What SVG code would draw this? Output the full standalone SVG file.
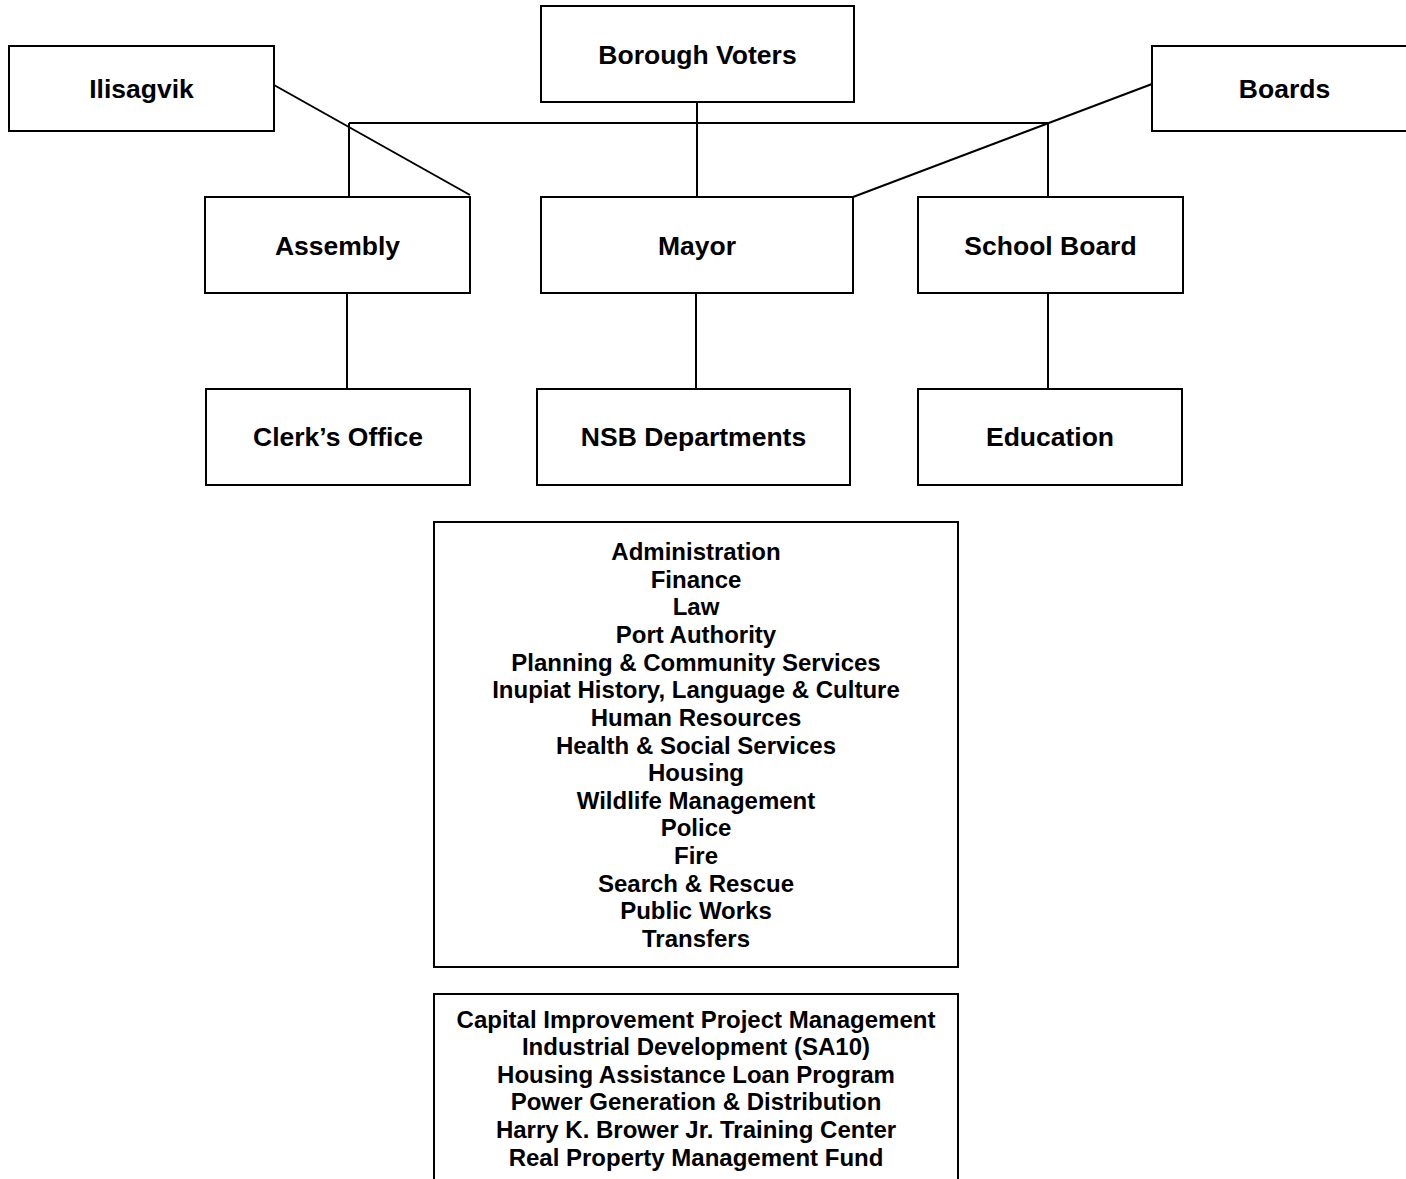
<svg xmlns="http://www.w3.org/2000/svg" width="1406" height="1179" viewBox="0 0 1406 1179">
<style>
.box{fill:#fff;stroke:#000;stroke-width:2}
.lbl{font-family:"Liberation Sans",Arial,sans-serif;font-weight:bold;font-size:26.5px;text-anchor:middle;fill:#000}
.lst{font-family:"Liberation Sans",Arial,sans-serif;font-weight:bold;font-size:24px;text-anchor:middle;fill:#000}
.conn line{stroke:#000;stroke-width:2;fill:none}
</style>
<rect width="1406" height="1179" fill="#fff"/>
<g id="connectors" class="conn">
<line x1="349" y1="123" x2="1048" y2="123"/>
<line x1="349" y1="123" x2="349" y2="197"/>
<line x1="697" y1="102" x2="697" y2="197"/>
<line x1="1048" y1="123" x2="1048" y2="197"/>
<line x1="274" y1="85" x2="470" y2="195"/>
<line x1="1152" y1="84" x2="853" y2="197"/>
<line x1="347" y1="293" x2="347" y2="389"/>
<line x1="696" y1="293" x2="696" y2="389"/>
<line x1="1048" y1="293" x2="1048" y2="389"/>
</g>
<g id="ilisagvik"><rect class="box" x="9" y="46" width="265" height="85"/><text class="lbl" x="141.5" y="98">Ilisagvik</text></g>
<g id="borough-voters"><rect class="box" x="541" y="6" width="313" height="96"/><text class="lbl" x="697.5" y="64">Borough Voters</text></g>
<g id="boards"><rect class="box" x="1152" y="46" width="265" height="85"/><text class="lbl" x="1284.5" y="98">Boards</text></g>
<g id="assembly"><rect class="box" x="205" y="197" width="265" height="96"/><text class="lbl" x="337.5" y="255">Assembly</text></g>
<g id="mayor"><rect class="box" x="541" y="197" width="312" height="96"/><text class="lbl" x="697" y="255">Mayor</text></g>
<g id="school-board"><rect class="box" x="918" y="197" width="265" height="96"/><text class="lbl" x="1050.5" y="255">School Board</text></g>
<g id="clerks-office"><rect class="box" x="206" y="389" width="264" height="96"/><text class="lbl" x="338" y="446">Clerk’s Office</text></g>
<g id="nsb-departments"><rect class="box" x="537" y="389" width="313" height="96"/><text class="lbl" x="693.5" y="446">NSB Departments</text></g>
<g id="education"><rect class="box" x="918" y="389" width="264" height="96"/><text class="lbl" x="1050" y="446">Education</text></g>
<g id="departments-list"><rect class="box" x="434" y="522" width="524" height="445"/>
<text class="lst" x="696" y="560">Administration</text>
<text class="lst" x="696" y="587.6">Finance</text>
<text class="lst" x="696" y="615.3">Law</text>
<text class="lst" x="696" y="642.9">Port Authority</text>
<text class="lst" x="696" y="670.6">Planning &amp; Community Services</text>
<text class="lst" x="696" y="698.2">Inupiat History, Language &amp; Culture</text>
<text class="lst" x="696" y="725.8">Human Resources</text>
<text class="lst" x="696" y="753.5">Health &amp; Social Services</text>
<text class="lst" x="696" y="781.1">Housing</text>
<text class="lst" x="696" y="808.8">Wildlife Management</text>
<text class="lst" x="696" y="836.4">Police</text>
<text class="lst" x="696" y="864">Fire</text>
<text class="lst" x="696" y="891.7">Search &amp; Rescue</text>
<text class="lst" x="696" y="919.3">Public Works</text>
<text class="lst" x="696" y="947">Transfers</text>
</g>
<g id="funds-list"><rect class="box" x="434" y="994" width="524" height="200"/>
<text class="lst" x="696" y="1027.5">Capital Improvement Project Management</text>
<text class="lst" x="696" y="1055.1">Industrial Development (SA10)</text>
<text class="lst" x="696" y="1082.8">Housing Assistance Loan Program</text>
<text class="lst" x="696" y="1110.4">Power Generation &amp; Distribution</text>
<text class="lst" x="696" y="1138">Harry K. Brower Jr. Training Center</text>
<text class="lst" x="696" y="1165.7">Real Property Management Fund</text>
</g>
</svg>
